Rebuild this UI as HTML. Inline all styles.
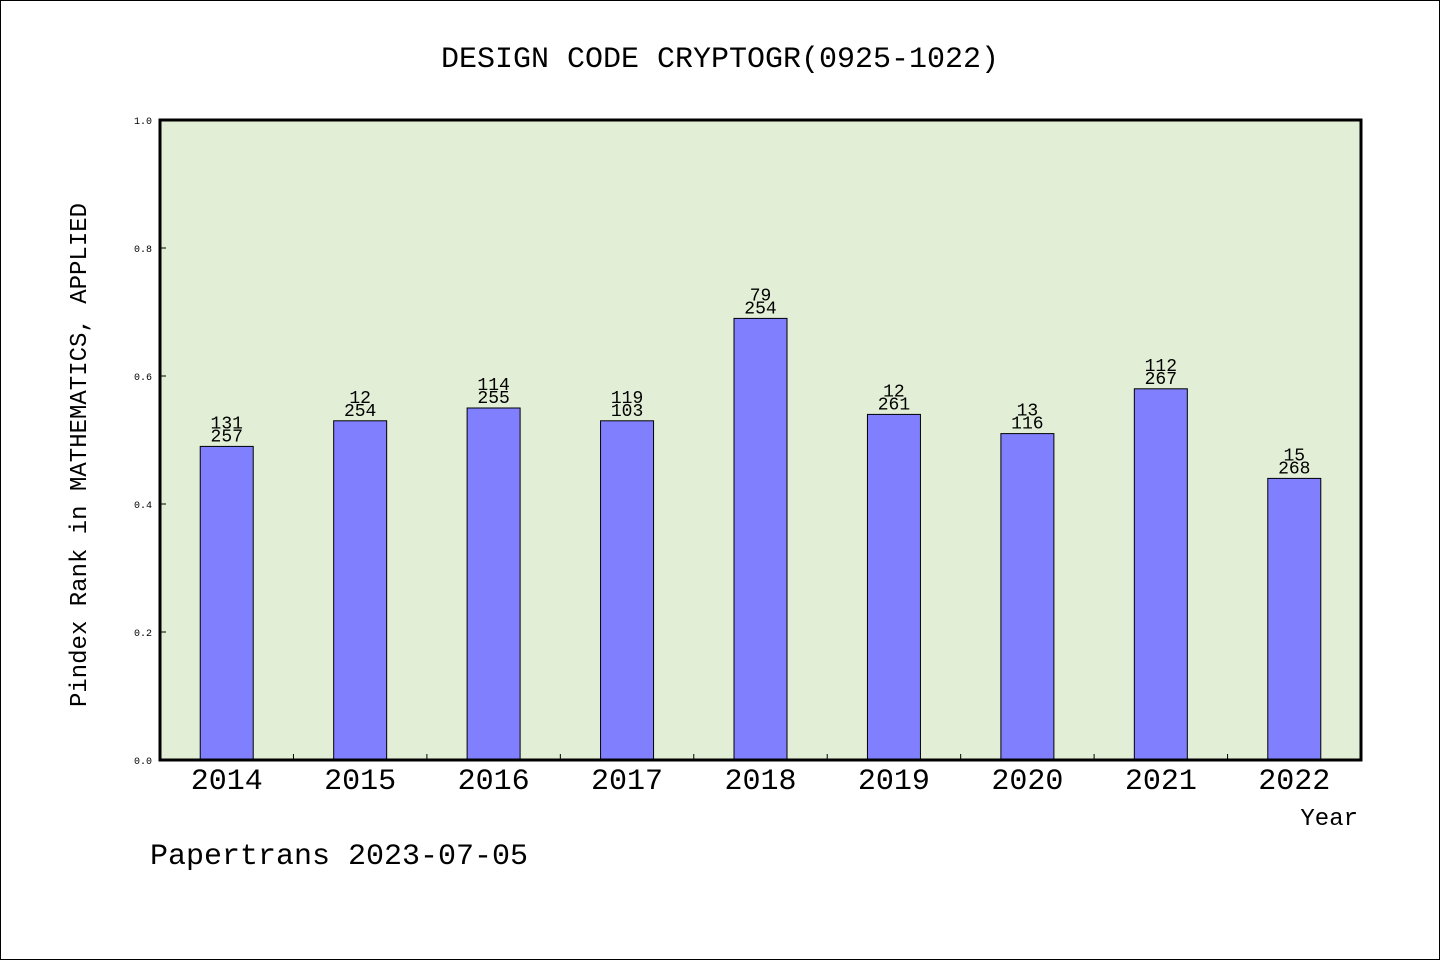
<!DOCTYPE html>
<html><head><meta charset="utf-8"><style>
body{margin:0;background:#fff}
svg{display:block;font-family:"Liberation Mono","WenQuanYi Zen Hei",monospace}
</style></head><body>
<svg id="c" width="1440" height="960" xmlns="http://www.w3.org/2000/svg">
<rect x="0.5" y="0.5" width="1439" height="959" fill="#fff" stroke="#000"/>
<text x="720" y="67" text-anchor="middle" font-size="30">DESIGN CODE CRYPTOGR(0925-1022)</text>
<rect x="160" y="120" width="1201" height="640" fill="#e2efd6"/>
<g id="bars"></g>
<rect x="160" y="120" width="1201" height="640" fill="none" stroke="#000" stroke-width="3"/>
<text transform="translate(86,455) rotate(-90)" text-anchor="middle" font-size="24">Pindex Rank in MATHEMATICS, APPLIED</text>
<text x="1358" y="825" text-anchor="end" font-size="24">Year</text>
<text x="150" y="864" font-size="30">Papertrans 2023-07-05</text>
</svg>
<script>
const categories=["2014","2015","2016","2017","2018","2019","2020","2021","2022"];
const values=[0.49,0.53,0.55,0.53,0.69,0.54,0.51,0.58,0.44];
const topLabels=["131","12","114","119","79","12","13","112","15"];
const bottomLabels=["257","254","255","103","254","261","116","267","268"];
const yTicks=[0,0.2,0.4,0.6,0.8,1.0];
const X0=160,W=1201,Y0=760,H=640,NS="http://www.w3.org/2000/svg";
const step=W/categories.length;
const xc=i=>X0+step*(i+0.5);
const y=v=>Y0-v*H;
const g=document.getElementById('bars');
function mk(t,a){const e=document.createElementNS(NS,t);for(const k in a)e.setAttribute(k,a[k]);g.appendChild(e);return e;}
yTicks.forEach(v=>{
  const l=mk('line',{x1:X0,x2:X0+6,y1:y(v),y2:y(v),stroke:'#000'});
  
  
  const t=mk('text',{x:X0-8,y:y(v)+4,'text-anchor':'end','font-size':10});
  t.textContent=v.toFixed(1);
  
  
});
for(let i=1;i<categories.length;i++){
  const x=X0+step*i;
  const l=mk('line',{x1:x,x2:x,y1:Y0,y2:Y0-6,stroke:'#000'});
  
  
}
categories.forEach((c,i)=>{
  const bw=53;
  const r=mk('rect',{x:xc(i)-bw/2,y:y(values[i]),width:bw,height:Y0-y(values[i]),fill:'#8080ff',stroke:'#000','stroke-width':1});
  
  
  const t1=mk('text',{x:xc(i),y:y(values[i])-18,'text-anchor':'middle','font-size':18});
  t1.textContent=topLabels[i];
  
  
  const t2=mk('text',{x:xc(i),y:y(values[i])-5,'text-anchor':'middle','font-size':18});
  t2.textContent=bottomLabels[i];
  
  
  const xl=mk('text',{x:xc(i),y:Y0+29,'text-anchor':'middle','font-size':30});
  xl.textContent=c;
  
  
});
</script>
</body></html>
